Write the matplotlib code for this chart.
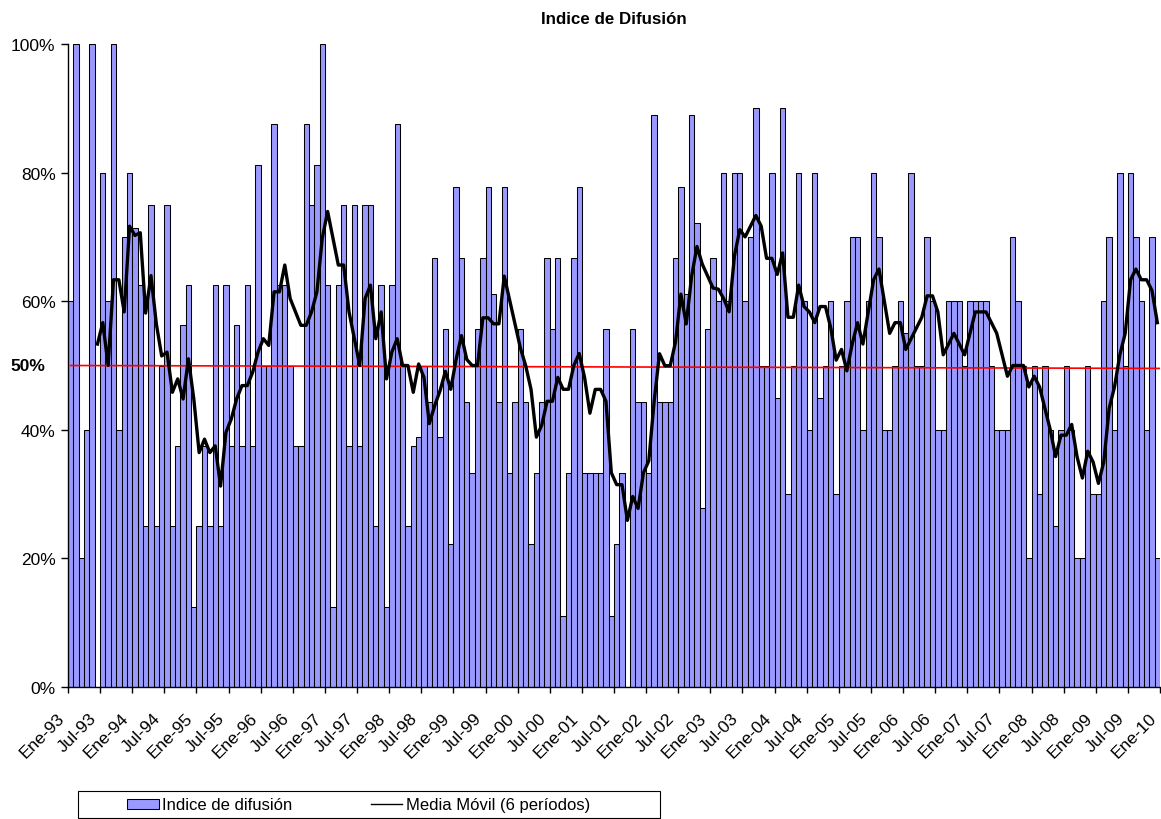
import numpy as np
import matplotlib
matplotlib.use("Agg")
import matplotlib.pyplot as plt
from matplotlib.patches import Rectangle, Patch
from matplotlib.lines import Line2D
import matplotlib.transforms as mtransforms
import pandas as pd

plt.rcParams['font.family'] = ['Liberation Sans', 'DejaVu Sans']

# ---- data (monthly, Ene-93 .. Dic-09), % ----
indice = [
    60, 100, 20, 40, 100, 0, 80, 60, 100, 40,
    70, 80, 71.4, 62.5, 25, 75, 25, 50, 75, 25,
    37.5, 56.25, 62.5, 12.5, 25, 37.5, 25, 62.5, 25, 62.5,
    37.5, 56.25, 37.5, 62.5, 37.5, 81.25, 50, 50, 87.5, 62.5,
    62.5, 50, 37.5, 37.5, 87.5, 75, 81.25, 100, 62.5, 12.5,
    62.5, 75, 37.5, 75, 37.5, 75, 75, 25, 62.5, 12.5,
    62.5, 87.5, 50, 25, 37.5, 38.9, 50, 44.4, 66.7, 38.9,
    55.6, 22.2, 77.8, 66.7, 44.4, 33.3, 55.6, 66.7, 77.8, 61.1,
    44.4, 77.8, 33.3, 44.4, 55.6, 44.4, 22.2, 33.3, 44.4, 66.7,
    55.6, 66.7, 11.1, 33.3, 66.7, 77.8, 33.3, 33.3, 33.3, 33.3,
    55.6, 11.1, 22.2, 33.3, 0, 55.6, 44.4, 44.4, 33.3, 88.9,
    44.4, 44.4, 44.4, 66.7, 77.8, 61.1, 88.9, 72.2, 27.8, 55.6,
    66.7, 60, 80, 60, 80, 80, 60, 70, 90, 50,
    50, 80, 45, 90, 30, 50, 80, 60, 40, 80,
    45, 50, 60, 30, 50, 60, 70, 70, 40, 60,
    80, 70, 40, 40, 50, 60, 55, 80, 50, 50,
    70, 60, 40, 40, 60, 60, 60, 50, 60, 60,
    60, 60, 50, 40, 40, 40, 70, 60, 50, 20,
    50, 30, 50, 40, 25, 40, 50, 40, 20, 20,
    50, 30, 30, 60, 70, 40, 80, 50, 80, 70,
    60, 40, 70, 20,
]
ma_window = 6
years = list(range(93, 100)) + list(range(0, 11))
tick_labels = []
for y in years:
    tick_labels.append(f"Ene-{y:02d}")
    tick_labels.append(f"Jul-{y:02d}")
tick_labels = tick_labels[:35]          # Ene-93 ... Ene-10
ytick_vals = [0, 20, 40, 60, 80, 100]
ref_level = [50, 49.55]                  # red 50% reference line (start, end)

# moving average as Excel's 6-period trendline
media_movil = pd.Series(indice, dtype=float).rolling(ma_window).mean().to_numpy()

W, H = 1161, 820
fig = plt.figure(figsize=(W / 100, H / 100), dpi=100)
L, R, T, B = 68, 1160, 45, 688
ax = fig.add_axes([L / W, 1 - B / H, (R - L) / W, (B - T) / H])

n = len(indice)
x = np.arange(n) + 0.5
ax.bar(x, indice, width=1.0, color='#9999FF', edgecolor='black', linewidth=0.75, zorder=2)
ax.plot(x, media_movil, color='black', linewidth=2.4, zorder=4, solid_joinstyle='round')
ax.plot([0.5, n], ref_level, color='#FF0000', linewidth=1.2, zorder=3)

ax.set_xlim(0, n)
ax.set_ylim(0, 100)
ax.set_yticks(ytick_vals)
ax.set_yticklabels([f"{v}%" for v in ytick_vals], fontsize=12.5)
ax.set_xticks(np.arange(0, 6 * len(tick_labels), 6))
ax.set_xticklabels(tick_labels, rotation=45, ha='right', va='center',
                   rotation_mode='anchor', fontsize=12.5)
ax.tick_params(axis='x', direction='out', length=4, width=1, pad=12)
ax.tick_params(axis='y', direction='out', length=5, width=1, pad=4)
shift = mtransforms.ScaledTranslation(-6 / 100, -6 / 100, fig.dpi_scale_trans)
for lab in ax.get_xticklabels():
    lab.set_transform(lab.get_transform() + shift)
for s in ['top', 'right']:
    ax.spines[s].set_visible(False)
for s in ['left', 'bottom']:
    ax.spines[s].set_linewidth(1.0)
    ax.spines[s].set_zorder(5)

trans = mtransforms.blended_transform_factory(ax.transAxes, ax.transData)
ax.text(-0.021, 50, "50%", transform=trans, ha='right', va='center',
        fontsize=12.5, fontweight='bold')

fig.text((L + R) / 2 / W, 1 - 20 / H, "Indice de Difusión", ha='center', va='center',
         fontsize=12.2, fontweight='bold')

# legend
frame = Rectangle((78 / W, 1 - 819 / H), (660 - 78) / W, (819 - 792) / H,
                  transform=fig.transFigure, fill=False, edgecolor='black', linewidth=0.8)
fig.add_artist(frame)
handles = [Patch(facecolor='#9999FF', edgecolor='black', linewidth=0.75),
           Line2D([0], [0], color='black', linewidth=1.0)]
fig.legend(handles, ["Indice de difusión", "Media Móvil (6 períodos)"],
           loc='center left', bbox_to_anchor=(127 / W, 1 - 806 / H), ncol=2,
           frameon=False, fontsize=12, handlelength=1.9, handleheight=0.55,
           handletextpad=0.2, columnspacing=4.7, borderpad=0, borderaxespad=0)

fig.savefig("out.png", dpi=100)
